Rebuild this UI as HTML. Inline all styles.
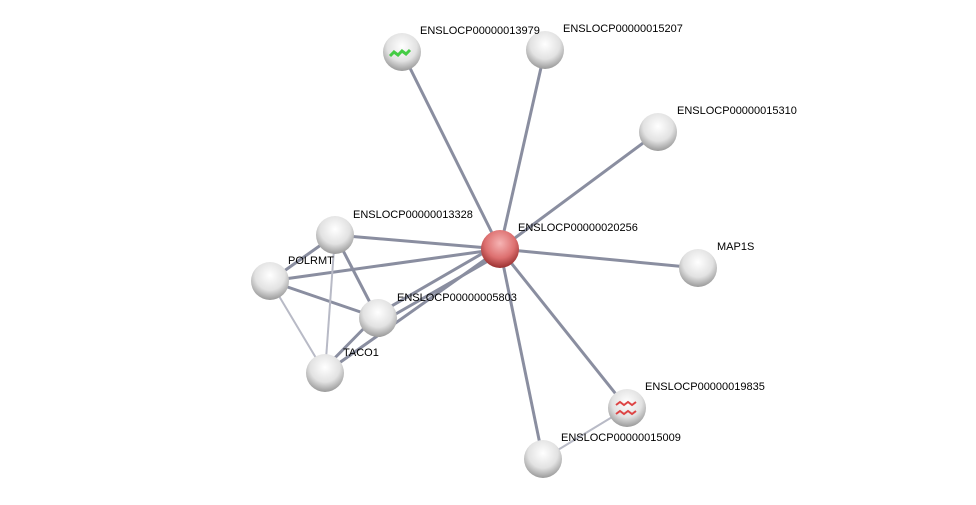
<!DOCTYPE html>
<html><head><style>body{margin:0;background:#fff}svg{display:block}text{font-family:"Liberation Sans",sans-serif;font-size:11px;fill:#000}</style></head>
<body>
<svg width="976" height="505" viewBox="0 0 976 505">
<defs>
<radialGradient id="g" cx="50%" cy="35%" r="65%"><stop offset="0" stop-color="#fff"/><stop offset="0.6" stop-color="#e2e2e2"/><stop offset="1" stop-color="#9a9a9a"/></radialGradient>
<radialGradient id="r" cx="50%" cy="35%" r="65%"><stop offset="0" stop-color="#f6b4b4"/><stop offset="0.6" stop-color="#dd7070"/><stop offset="1" stop-color="#9a3030"/></radialGradient>
</defs>
<g stroke="#8a8ea0" stroke-width="3" fill="none">
<line x1="500" y1="249" x2="402" y2="52"/>
<line x1="500" y1="249" x2="545" y2="50"/>
<line x1="500" y1="249" x2="658" y2="132"/>
<line x1="500" y1="249" x2="698" y2="268"/>
<line x1="500" y1="249" x2="627" y2="408"/>
<line x1="500" y1="249" x2="543" y2="459"/>
<line x1="500" y1="249" x2="335" y2="235"/>
<line x1="500" y1="249" x2="270" y2="281"/>
<line x1="497" y1="245" x2="376" y2="315"/>
<line x1="502" y1="253" x2="380" y2="323"/>
<line x1="500" y1="249" x2="325" y2="373"/>
<line x1="270" y1="281" x2="378" y2="318"/>
<line x1="335" y1="235" x2="378" y2="318"/>
<line x1="270" y1="281" x2="335" y2="235"/>
<line x1="376" y1="316" x2="323" y2="370"/>
</g>
<g stroke="#b8bac6" stroke-width="2" fill="none">
<line x1="270" y1="281" x2="325" y2="373"/>
<line x1="335" y1="235" x2="325" y2="373"/>
<line x1="627" y1="408" x2="543" y2="459"/>
</g>
<g>
<circle cx="402" cy="52" r="19" fill="url(#g)"/>
<path d="M390 56 l4 -4 l4 3 l4 -4 l4 3 l4 -4" stroke="#4c4" stroke-width="3" fill="none"/>
<circle cx="545" cy="50" r="19" fill="url(#g)"/>
<circle cx="658" cy="132" r="19" fill="url(#g)"/>
<circle cx="698" cy="268" r="19" fill="url(#g)"/>
<circle cx="627" cy="408" r="19" fill="url(#g)"/>
<path d="M616 405 l4 -3 l4 3 l4 -3 l4 3 l4 -3 M616 414 l4 -3 l4 3 l4 -3 l4 3 l4 -3" stroke="#d44" stroke-width="2" fill="none"/>
<circle cx="543" cy="459" r="19" fill="url(#g)"/>
<circle cx="335" cy="235" r="19" fill="url(#g)"/>
<circle cx="270" cy="281" r="19" fill="url(#g)"/>
<circle cx="378" cy="318" r="19" fill="url(#g)"/>
<circle cx="325" cy="373" r="19" fill="url(#g)"/>
<circle cx="500" cy="249" r="19" fill="url(#r)"/>
</g>
<text x="420" y="34">ENSLOCP00000013979</text>
<text x="563" y="32">ENSLOCP00000015207</text>
<text x="677" y="114">ENSLOCP00000015310</text>
<text x="717" y="250">MAP1S</text>
<text x="645" y="390">ENSLOCP00000019835</text>
<text x="561" y="441">ENSLOCP00000015009</text>
<text x="353" y="218">ENSLOCP00000013328</text>
<text x="518" y="231">ENSLOCP00000020256</text>
<text x="288" y="264">POLRMT</text>
<text x="397" y="301">ENSLOCP00000005803</text>
<text x="343" y="356">TACO1</text>
</svg>
</body></html>
